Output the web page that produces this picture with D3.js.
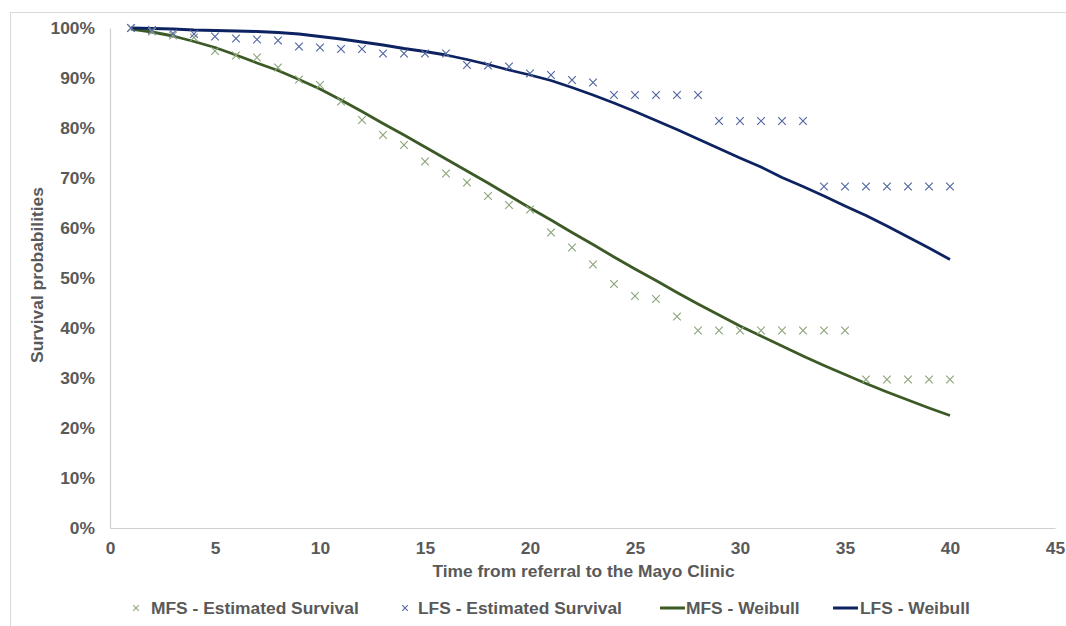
<!DOCTYPE html>
<html>
<head>
<meta charset="utf-8">
<script src="https://cdn.jsdelivr.net/npm/d3@7"></script>
<style>
  html, body { margin: 0; padding: 0; background: #fff; }
  svg text { font-family: "Liberation Sans", Arial, sans-serif; font-weight: bold; fill: #595959; }
</style>
</head>
<body>
<svg id="chart" width="1066" height="626"></svg>
<script>
// ---- data ----
const times = d3.range(1, 41); // 1..40
const mfsEstimated = [100, 99.3, 98.5, 98.1, 95.4, 94.5, 94.1, 92.1, 89.7, 88.6,
  85.3, 81.6, 78.6, 76.6, 73.3, 70.9, 69.1, 66.4, 64.6, 63.7,
  59.1, 56.1, 52.7, 48.8, 46.4, 45.8, 42.3, 39.5, 39.5, 39.5,
  39.5, 39.5, 39.5, 39.5, 39.5, 29.7, 29.7, 29.7, 29.7, 29.7];
const lfsEstimated = [100, 99.6, 98.9, 98.8, 98.3, 97.9, 97.7, 97.5, 96.3, 96.1,
  95.8, 95.8, 94.9, 94.9, 94.9, 94.9, 92.6, 92.5, 92.3, 90.9,
  90.6, 89.6, 89.1, 86.6, 86.6, 86.6, 86.6, 86.6, 81.4, 81.4,
  81.4, 81.4, 81.4, 68.3, 68.3, 68.3, 68.3, 68.3, 68.3, 68.3];
const mfsWeibull = [99.8, 99.2, 98.4, 97.3, 96.1, 94.6, 93.0, 91.5, 89.7, 87.8,
  85.6, 83.3, 80.9, 78.6, 76.2, 73.8, 71.4, 69.0, 66.5, 64.0,
  61.6, 59.1, 56.7, 54.2, 51.8, 49.5, 47.1, 44.8, 42.6, 40.4,
  38.4, 36.4, 34.4, 32.5, 30.7, 28.9, 27.2, 25.6, 24.0, 22.5];
const lfsWeibull = [100, 99.9, 99.8, 99.6, 99.5, 99.4, 99.3, 99.1, 98.8, 98.3,
  97.8, 97.2, 96.6, 95.9, 95.3, 94.6, 93.7, 92.7, 91.6, 90.6,
  89.5, 88.1, 86.6, 85.0, 83.3, 81.5, 79.7, 77.8, 75.9, 74.0,
  72.2, 70.1, 68.3, 66.4, 64.4, 62.5, 60.4, 58.2, 56.0, 53.7];
const xTicks = [0, 5, 10, 15, 20, 25, 30, 35, 40, 45];
const yTicks = [0, 10, 20, 30, 40, 50, 60, 70, 80, 90, 100];
const seriesNames = ["MFS - Estimated Survival", "LFS - Estimated Survival", "MFS - Weibull", "LFS - Weibull"];

// ---- styles ----
const C = {
  mfsMark: "#8ea67c",
  lfsMark: "#5468a3",
  mfsLine: "#3b5a25",
  lfsLine: "#0d2260",
  axis: "#d0d0d0",
  text: "#595959"
};
const FS = 17.4;

const svg = d3.select("#chart");
const plot = { left: 110, right: 1055, top: 28, bottom: 528 };

// outer border
svg.append("rect").attr("x", 10.5).attr("y", 12.5).attr("width", 1062).attr("height", 640)
  .attr("fill", "none").attr("stroke", "#d9d9d9").attr("stroke-width", 1);

const x = d3.scaleLinear().domain([0, 45]).range([plot.left, plot.right]);
const y = d3.scaleLinear().domain([0, 100]).range([plot.bottom, plot.top]);

// axes
const xAxis = svg.append("g").attr("transform", `translate(0,${plot.bottom})`)
  .call(d3.axisBottom(x).tickValues(xTicks).tickSize(0).tickPadding(14).tickFormat(d3.format("d")));
xAxis.select(".domain").attr("stroke", C.axis).attr("stroke-width", 1.2);
xAxis.selectAll("text").attr("font-size", FS).style("fill", C.text)
  .attr("font-family", "Liberation Sans, Arial, sans-serif").attr("font-weight", "bold");

const yAxis = svg.append("g").attr("transform", `translate(${plot.left},0)`)
  .call(d3.axisLeft(y).tickValues(yTicks).tickSize(0).tickPadding(15).tickFormat(d => d + "%"));
yAxis.select(".domain").attr("stroke", C.axis).attr("stroke-width", 1.2);
yAxis.selectAll("text").attr("font-size", FS).style("fill", C.text)
  .attr("font-family", "Liberation Sans, Arial, sans-serif").attr("font-weight", "bold");

// axis titles
svg.append("text").attr("x", (plot.left + plot.right) / 2 + 1).attr("y", 577)
  .attr("text-anchor", "middle").attr("font-size", FS).text("Time from referral to the Mayo Clinic");
svg.append("text").attr("transform", "translate(43,275) rotate(-90)")
  .attr("text-anchor", "middle").attr("font-size", FS).text("Survival probabilities");

// lines
const line = d3.line().x((d, i) => x(times[i])).y(d => y(d));
svg.append("path").datum(mfsWeibull).attr("d", line)
  .attr("fill", "none").attr("stroke", C.mfsLine).attr("stroke-width", 2.8).attr("stroke-linejoin", "round");
svg.append("path").datum(lfsWeibull).attr("d", line)
  .attr("fill", "none").attr("stroke", C.lfsLine).attr("stroke-width", 2.8).attr("stroke-linejoin", "round");

// markers
function cross(g, cx, cy, r, color, w) {
  g.append("path")
    .attr("d", `M${cx - r},${cy - r}L${cx + r},${cy + r}M${cx - r},${cy + r}L${cx + r},${cy - r}`)
    .attr("stroke", color).attr("stroke-width", w).attr("fill", "none");
}
const mk = svg.append("g");
mfsEstimated.forEach((v, i) => cross(mk, x(times[i]), y(v), 3.8, C.mfsMark, 1.2));
lfsEstimated.forEach((v, i) => cross(mk, x(times[i]), y(v), 3.8, C.lfsMark, 1.2));

// legend
const lg = svg.append("g");
const ly = 608;
const legendItems = [
  { name: seriesNames[0], type: "mark", color: C.mfsMark, sx: 136, tx: 151 },
  { name: seriesNames[1], type: "mark", color: C.lfsMark, sx: 405, tx: 418 },
  { name: seriesNames[2], type: "line", color: C.mfsLine, sx: 660, tx: 686 },
  { name: seriesNames[3], type: "line", color: C.lfsLine, sx: 833, tx: 860 }
];
legendItems.forEach(it => {
  if (it.type === "mark") cross(lg, it.sx, ly, 2.8, it.color, 1.1);
  else lg.append("line").attr("x1", it.sx).attr("x2", it.sx + 25).attr("y1", ly).attr("y2", ly)
    .attr("stroke", it.color).attr("stroke-width", 3);
  lg.append("text").attr("x", it.tx).attr("y", ly).attr("dy", "0.35em").attr("font-size", FS).text(it.name);
});
</script>
</body>
</html>
